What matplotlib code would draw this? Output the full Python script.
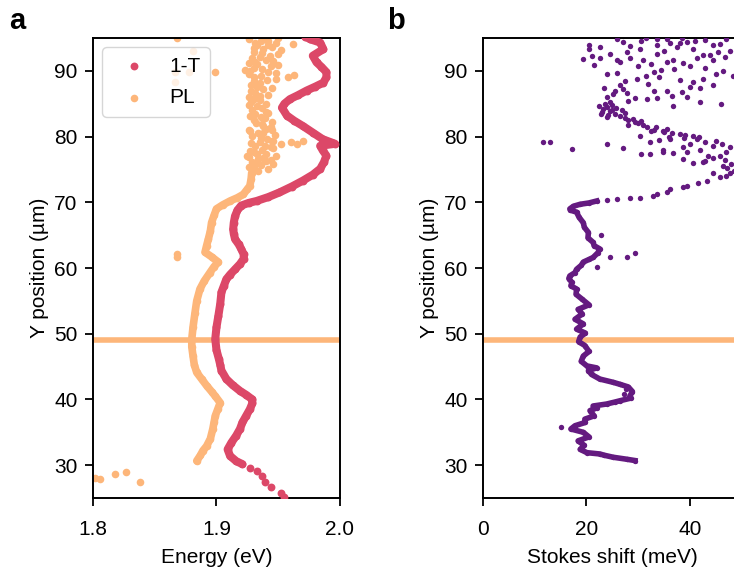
import numpy as np
import matplotlib.pyplot as plt

plt.rcParams['font.family'] = ['Liberation Sans', 'DejaVu Sans']
plt.rcParams['font.size'] = 15

# 1-T transition energy along the scan (Y in um, energy in eV)
y_1t = [25.2, 25.7, 26.6, 27.4, 28.3, 29.1, 29.6, 30.15, 30.6, 31.4, 32.4, 33.4,
        34.5, 35.5, 36.5, 37.5, 38.5, 39.4, 40.0, 40.7, 41.3, 42.2, 43.1, 44.4,
        45.3, 46.1, 47.5, 49.2, 51.0, 52.7, 54.5, 56.3, 57.3, 58.3, 59.0, 59.8,
        60.6, 61.4, 62.1, 62.9, 63.6, 64.4, 65.2, 65.9, 66.9, 67.9, 68.8, 69.5,
        69.9, 70.2, 70.8, 71.5, 72.4, 73.3, 74.2, 75.1, 76.1, 77.1, 77.9, 78.6,
        78.9, 79.6, 80.6, 81.6, 82.4, 83.2, 84.4, 85.0, 85.7, 86.3, 87.0, 87.6,
        88.2, 89.0, 89.8, 90.6, 91.3, 92.3, 93.3, 94.3, 94.8, 95.2]
e_1t = [1.955, 1.952, 1.944, 1.939, 1.937, 1.933, 1.927, 1.921, 1.916, 1.911, 1.909, 1.912,
        1.916, 1.919, 1.921, 1.924, 1.927, 1.929, 1.929, 1.924, 1.919, 1.913, 1.908, 1.904,
        1.903, 1.902, 1.900, 1.899, 1.900, 1.9015, 1.903, 1.904, 1.906, 1.908, 1.911, 1.915,
        1.919, 1.922, 1.922, 1.920, 1.918, 1.915, 1.914, 1.9135, 1.914, 1.915, 1.917, 1.920,
        1.926, 1.9325, 1.942, 1.951, 1.961, 1.970, 1.978, 1.984, 1.987, 1.989, 1.986, 1.984,
        1.996, 1.986, 1.978, 1.970, 1.963, 1.957, 1.953, 1.955, 1.9595, 1.966, 1.973, 1.980,
        1.9865, 1.989, 1.989, 1.985, 1.981, 1.978, 1.9865, 1.984, 1.976, 1.972]

# PL peak energy: continuous part of the scan
y_pl = [30.65, 31.5, 32.2, 32.9, 34.0, 35.5, 36.5, 37.5, 38.5, 39.5, 40.5, 41.2,
        42.1, 43.1, 44.1, 45.3, 46.6, 48.0, 49.2, 51.0, 53.2, 55.0, 56.8, 58.0,
        59.3, 60.2, 60.9, 61.7, 62.4, 63.4, 64.4, 65.6, 66.9, 68.0, 69.0, 69.6,
        70.2, 70.7, 71.2, 72.0, 72.5, 73.5, 74.5]
e_pl = [1.884, 1.887, 1.889, 1.892, 1.895, 1.897, 1.898, 1.899, 1.901, 1.903, 1.899, 1.896,
        1.892, 1.888, 1.884, 1.882, 1.881, 1.880, 1.880, 1.881, 1.8826, 1.884, 1.8866, 1.890,
        1.8947, 1.898, 1.9015, 1.896, 1.8907, 1.892, 1.8934, 1.895, 1.896, 1.898, 1.900, 1.905,
        1.911, 1.917, 1.9217, 1.925, 1.927, 1.928, 1.9285]

# PL peak energy: noisy region and isolated fits
y_pl_sc = [75.2, 75.6, 76.0, 76.6, 76.9, 77.3, 77.6, 78.0, 78.4, 78.9, 79.1, 79.3,
           79.6, 80.1, 80.5, 80.8, 81.2, 81.6, 82.0, 82.5, 83.0, 83.4, 84.0, 84.6,
           85.2, 85.7, 86.2, 86.7, 87.2, 87.6, 88.2, 88.6, 89.0, 89.3, 89.6, 90.0,
           90.2, 90.3, 90.7, 91.0, 91.3, 91.7, 92.1, 92.5, 92.9, 93.3, 93.7, 94.0,
           94.1, 94.3, 94.6, 94.9, 95.0, 78.6, 79.3, 76.3, 77.0, 81.0, 83.8,
           74.8, 75.0, 75.4, 75.8, 76.2, 76.4, 76.8, 77.1, 77.4, 77.8, 78.2, 78.6,
           78.8, 79.0, 79.4, 79.8, 80.3, 80.6, 81.0, 81.4, 81.9, 82.2, 82.8, 83.2,
           83.6, 84.3, 84.8, 85.0, 85.5, 86.0, 86.4, 87.0, 87.4, 87.9, 88.4, 88.8,
           89.2, 89.5, 89.9, 90.5, 90.9, 91.2, 91.5, 91.9, 92.3, 92.7, 93.1, 93.5,
           93.9, 94.2, 94.5, 94.8, 79.1, 89.1,
           27.9, 28.0, 28.7, 28.9, 27.5, 61.7, 62.2,
           95.0, 93.0, 89.8, 89.8, 88.3, 89.8]
e_pl_sc = [1.930, 1.936, 1.932, 1.934, 1.926, 1.940, 1.930, 1.937, 1.944, 1.965, 1.935, 1.970,
           1.941, 1.929, 1.934, 1.927, 1.940, 1.938, 1.932, 1.930, 1.936, 1.931, 1.929, 1.933,
           1.928, 1.930, 1.935, 1.931, 1.938, 1.933, 1.935, 1.941, 1.930, 1.963, 1.948, 1.927,
           1.923, 1.937, 1.944, 1.933, 1.931, 1.940, 1.935, 1.950, 1.930, 1.938, 1.945, 1.933,
           1.962, 1.931, 1.942, 1.926, 1.950, 1.939, 1.946, 1.940, 1.925, 1.945, 1.940,
           1.934, 1.942, 1.926, 1.946, 1.929, 1.944, 1.938, 1.948, 1.933, 1.927, 1.946, 1.931,
           1.952, 1.928, 1.945, 1.936, 1.947, 1.938, 1.926, 1.944, 1.937, 1.945, 1.939, 1.927,
           1.942, 1.937, 1.926, 1.940, 1.935, 1.926, 1.942, 1.928, 1.945, 1.928, 1.930, 1.948,
           1.936, 1.926, 1.942, 1.930, 1.950, 1.926, 1.946, 1.929, 1.943, 1.937, 1.952, 1.930,
           1.942, 1.948, 1.936, 1.939, 1.960, 1.958,
           1.806, 1.802, 1.818, 1.8265, 1.838, 1.868, 1.868,
           1.868, 1.881, 1.899, 1.878, 1.866, 1.866]

# Stokes shift, dense part (meV)
y_ss = [30.7, 30.9, 31.2, 31.5, 31.7, 31.9, 32.4, 33.0, 33.7, 34.3, 35.0, 35.5,
        36.0, 36.5, 37.0, 37.5, 38.3, 38.7, 39.0, 39.3, 39.6, 39.8, 40.2, 40.5,
        41.2, 41.9, 42.3, 42.6, 43.1, 43.8, 44.4, 44.8, 45.1, 45.8, 46.6, 47.3,
        48.2, 48.8, 49.5, 50.1, 50.7, 51.5, 52.2, 53.0, 53.7, 54.4, 55.3, 56.0,
        56.8, 57.3, 57.8, 58.4, 58.8, 59.3, 59.8, 60.4, 60.9, 61.3, 61.6, 62.3,
        62.9, 63.4, 63.9, 64.6, 65.4, 66.2, 66.9, 67.7, 68.5, 68.8, 69.0, 69.4,
        69.7, 69.9, 70.2]
s_ss = [29.4, 27.8, 25.2, 23.5, 22.6, 20.1, 18.8, 19.6, 18.4, 20.5, 19.4, 17.0,
        17.8, 19.8, 19.7, 21.5, 20.7, 22.0, 21.3, 23.9, 25.5, 26.5, 28.6, 28.4,
        28.9, 28.1, 26.5, 25.2, 22.6, 21.0, 20.4, 22.0, 20.1, 19.0, 19.4, 20.5,
        19.7, 18.5, 18.8, 19.8, 18.1, 19.4, 17.8, 19.2, 18.4, 20.5, 19.1, 18.0,
        18.1, 17.0, 17.2, 16.6, 16.8, 17.8, 18.1, 19.0, 19.4, 20.5, 21.3, 22.2,
        22.6, 21.5, 21.3, 20.3, 20.4, 19.6, 19.4, 18.6, 18.1, 16.9, 16.8, 17.5,
        18.8, 20.5, 22.0]

# Stokes shift, sparse points and noisy region
y_ss_sc = [61.6, 61.6, 62.3, 60.2, 65.0, 35.8, 40.9, 41.6,
           70.4, 70.5, 70.6, 70.7, 71.0, 71.2, 71.6, 72.0, 72.4, 72.5, 72.9, 73.3,
           73.8, 74.0, 74.5, 75.0,
           79.1, 79.1, 78.1, 78.9, 78.2, 77.3, 77.7, 77.5, 78.4, 76.6, 76.0, 76.3,
           77.1, 74.5, 75.5, 76.8, 77.6, 76.2, 77.9, 77.4,
           84.2, 83.9, 83.5, 84.5, 83.2, 83.7, 82.9, 82.7, 82.0, 81.4, 81.0, 80.9,
           80.4, 80.6, 80.1, 79.1, 79.6, 79.6, 80.1, 78.6, 77.6, 79.2, 81.8, 82.4,
           81.2, 79.8, 84.0, 83.3, 84.8,
           84.6, 84.3, 83.4, 84.9, 83.0, 84.0, 85.2, 83.6, 82.5,
           82.2, 81.7, 81.5, 80.7, 80.8, 80.3, 79.9, 79.3, 78.9, 78.4, 79.5, 80.0,
           78.8, 78.0, 77.0, 76.5, 75.8, 75.2, 74.8,
           91.8, 93.3, 94.0, 89.5, 86.5, 86.6, 88.8, 85.7, 85.8, 86.9, 88.6, 88.3,
           87.4, 87.8, 89.2, 91.3, 91.9, 91.6, 92.5, 91.4, 91.6, 91.2, 92.0, 92.4,
           91.6, 91.9, 92.6, 91.6, 92.9, 93.3, 93.9, 94.3, 94.2, 93.4, 92.4, 93.9,
           94.1, 93.0, 94.8, 94.8, 93.6, 87.2, 85.9, 89.0, 90.3, 86.0, 84.9, 90.0,
           88.0, 84.7, 85.3, 94.6, 95.0, 90.8, 89.7, 87.4, 85.4,
           86.0, 87.0, 87.8, 88.5, 89.2, 89.8, 87.0, 86.2, 86.8, 87.5, 88.8, 89.5,
           90.5, 90.8, 90.2, 91.0, 93.0, 93.6, 94.4, 94.7, 94.9, 92.8, 92.1, 93.8,
           94.4, 92.2, 90.9, 94.9, 95.0, 94.6]
s_ss_sc = [24.6, 27.8, 29.4, 22.1, 22.9, 15.0, 27.2, 27.6,
           24.0, 25.9, 28.4, 30.4, 32.9, 33.6, 35.5, 36.2, 38.7, 39.4, 41.5, 43.3,
           45.8, 47.1, 47.8, 49.0,
           11.7, 12.9, 17.2, 23.9, 27.1, 32.3, 34.9, 36.8, 38.7, 38.7, 40.7, 42.9,
           45.8, 44.5, 46.5, 44.5, 39.4, 42.6, 34.9, 30.5,
           23.3, 24.6, 25.5, 24.0, 26.5, 23.0, 27.4, 29.0, 30.0, 31.7, 33.0, 34.9,
           38.1, 36.5, 30.4, 32.3, 41.3, 36.2, 40.7, 44.5, 47.1, 43.0, 28.0, 30.5,
           35.5, 38.9, 25.0, 24.2, 24.9,
           22.5, 25.8, 22.8, 23.6, 24.0, 26.8, 24.5, 27.5, 28.0,
           29.5, 31.0, 33.5, 35.0, 32.5, 39.0, 41.8, 45.0, 46.3, 47.8, 34.0, 36.0,
           40.0, 42.0, 43.5, 46.8, 48.0, 47.2, 48.5,
           19.4, 20.6, 20.6, 23.9, 25.2, 27.8, 29.7, 31.7, 33.6, 35.5, 38.1, 40.7,
           42.0, 44.5, 48.4, 26.5, 28.4, 31.0, 33.6, 35.5, 36.8, 38.7, 41.3, 43.9,
           44.5, 22.6, 24.6, 25.9, 27.8, 30.4, 33.6, 36.2, 38.1, 40.7, 42.6, 44.5,
           45.8, 47.8, 25.9, 33.6, 22.6, 27.0, 29.5, 34.0, 37.0, 39.5, 46.0, 46.5,
           32.0, 36.8, 42.0, 41.0, 31.5, 30.0, 26.0, 23.4, 28.0,
           24.0, 25.5, 26.5, 27.5, 31.5, 33.0, 33.0, 36.5, 38.5, 40.0, 42.5, 45.0,
           43.0, 40.0, 34.5, 32.5, 35.0, 37.5, 39.5, 43.0, 47.0, 45.5, 46.8, 28.5,
           27.0, 21.0, 21.5, 35.5, 38.5, 30.5]

y_mark = 49.0

C_1T = "#dc4868"
C_PL = "#fdb67a"
C_SS = "#641a80"


def style_axes(ax):
    for sp in ax.spines.values():
        sp.set_linewidth(1.4)
    ax.tick_params(direction="out", length=6, width=1.3, labelsize=15)
    ax.tick_params(axis="x", pad=10)
    ax.tick_params(axis="y", pad=5)


fig = plt.figure(figsize=(7.34, 5.74), dpi=100)
ax_a = fig.add_axes([0.1267, 0.1324, 0.3365, 0.8014])
ax_b = fig.add_axes([0.658, 0.1324, 0.3522, 0.8014])

# panel a: energies
y1 = np.array(y_1t)
e1 = np.array(e_1t)
dense = y1 >= 30.0
ax_a.axhline(y_mark, color=C_PL, lw=4, zorder=1)
ax_a.plot(e1[dense], y1[dense], color=C_1T, lw=5.8, solid_capstyle="round",
          solid_joinstyle="round", zorder=3)
ax_a.scatter(e1, y1, s=32, color=C_1T, linewidths=0, zorder=3, label="1-T")
ax_a.plot(e_pl, y_pl, color=C_PL, lw=5.5, solid_capstyle="round",
          solid_joinstyle="round", zorder=2)
ax_a.scatter(e_pl + e_pl_sc, y_pl + y_pl_sc, s=30, color=C_PL, linewidths=0,
             zorder=2, label="PL")
ax_a.set_xlim(1.8, 2.0)
ax_a.set_ylim(25, 95)
ax_a.set_xticks([1.8, 1.9, 2.0])
ax_a.set_yticks([30, 40, 50, 60, 70, 80, 90])
ax_a.set_xlabel("Energy (eV)", fontsize=15, labelpad=6)
ax_a.set_ylabel("Y position (\u00b5m)", fontsize=15, labelpad=4)
ax_a.legend(loc="upper left", fontsize=15, handlelength=2.1,
            handletextpad=0.65, labelspacing=0.6, borderpad=0.45,
            framealpha=0.8, edgecolor="#cccccc", borderaxespad=0.45)
style_axes(ax_a)

# panel b: Stokes shift
ax_b.axhline(y_mark, color=C_PL, lw=4, zorder=1)
ax_b.plot(s_ss, y_ss, color=C_SS, lw=4, zorder=2)
ax_b.scatter(s_ss + s_ss_sc, y_ss + y_ss_sc, s=15, color=C_SS, linewidths=0, zorder=3)
ax_b.set_xlim(0, 50)
ax_b.set_ylim(25, 95)
ax_b.set_xticks([0, 20, 40])
ax_b.set_yticks([30, 40, 50, 60, 70, 80, 90])
ax_b.set_xlabel("Stokes shift (meV)", fontsize=15, labelpad=6)
ax_b.set_ylabel("Y position (\u00b5m)", fontsize=15, labelpad=4)
style_axes(ax_b)

fig.text(0.012, 0.963, "a", fontsize=21, fontweight="bold", va="center")
fig.text(0.527, 0.963, "b", fontsize=21, fontweight="bold", va="center")

fig.savefig("out.png", dpi=100)
